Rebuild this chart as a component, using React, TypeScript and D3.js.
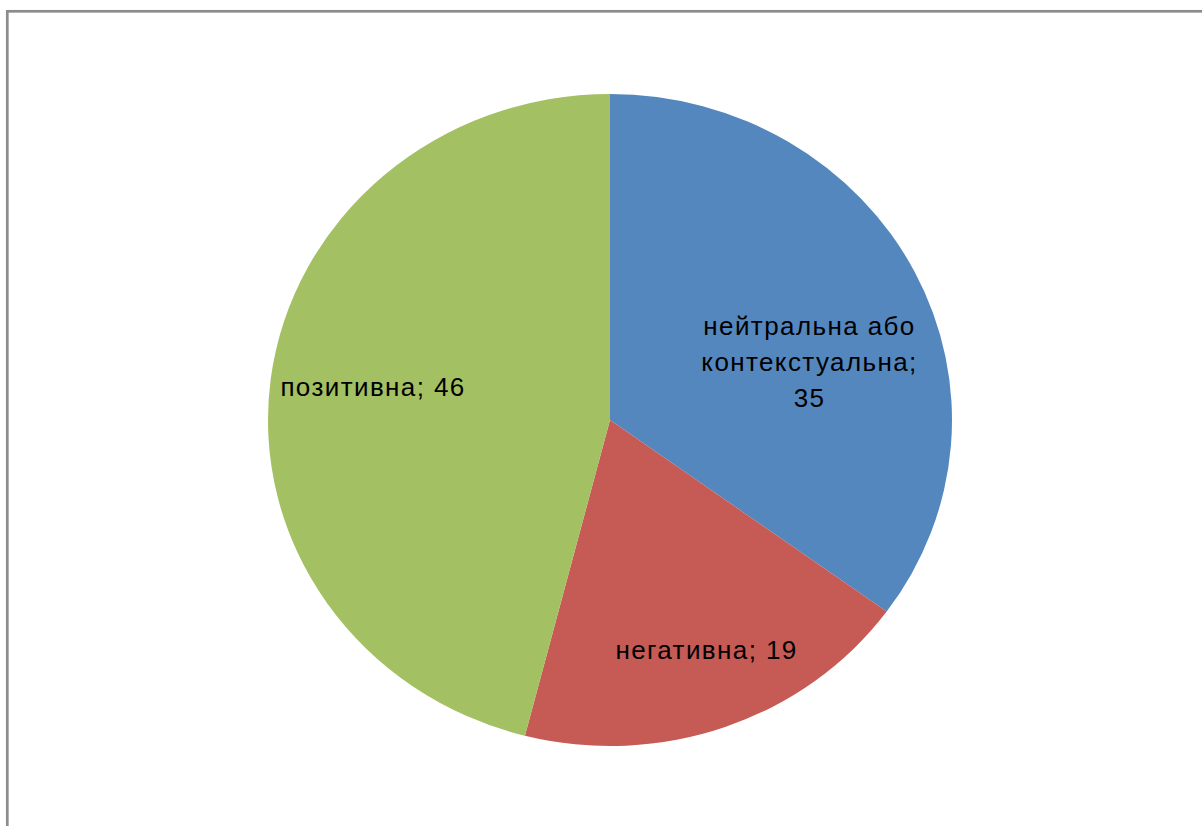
import React from "react";
import * as d3 from "d3";

const categories = ["нейтральна або контекстуальна", "негативна", "позитивна"];
const values = [35, 19, 46];
const colors = ["#5587BF", "#C65A55", "#A3C062"];

const W = 1202;
const H = 826;

function wrap(text: string, maxChars: number): string[] {
  const words = text.split(" ");
  const lines: string[] = [];
  let cur = "";
  for (const w of words) {
    const next = cur ? cur + " " + w : w;
    if (next.length > maxChars && cur) {
      lines.push(cur);
      cur = w;
    } else cur = next;
  }
  if (cur) lines.push(cur);
  return lines;
}

export default function App() {
  const cx = 610;
  const cy = 420;
  const ry = 326;
  const rx = 342;
  const sx = rx / ry;

  const pie = d3.pie<number>().sort(null).value((d) => d);
  const arcs = pie(values);
  const arc = d3.arc<d3.PieArcDatum<number>>().innerRadius(0).outerRadius(ry);

  // label placement (layout): angle shift (deg) and radius fraction per slice
  const labelLayout = [
    { shift: 10, frac: 0.61 },
    { shift: -2, frac: 0.76 },
    { shift: 1, frac: 0.7 },
  ];
  const lineH = 36;

  return (
    <svg
      width={W}
      height={H}
      style={{ position: "absolute", left: 0, top: 0, background: "#fff" }}
    >
      <rect x={7.3} y={11.3} width={W + 50} height={H + 50} fill="#fff" stroke="#8c8c8c" strokeWidth={2.7} />
      <g transform={`translate(${cx},${cy}) scale(${sx},1)`}>
        {arcs.map((a, i) => (
          <path key={i} d={arc(a) || ""} fill={colors[i]} />
        ))}
      </g>
      {arcs.map((a, i) => {
        const mid = (a.startAngle + a.endAngle) / 2 + (labelLayout[i].shift * Math.PI) / 180;
        const f = labelLayout[i].frac;
        const x = cx + Math.sin(mid) * rx * f;
        const y = cy - Math.cos(mid) * ry * f;
        const lines = wrap(`${categories[i]}; ${values[i]}`, 15);
        const y0 = y - ((lines.length - 1) * lineH) / 2;
        return (
          <text
            key={i}
            x={x}
            y={y0}
            textAnchor="middle"
            dominantBaseline="central"
            fontFamily="Liberation Sans, Arial, sans-serif"
            fontSize={26}
            letterSpacing={1.4}
            fill="#000"
          >
            {lines.map((l, j) => (
              <tspan key={j} x={x} y={y0 + j * lineH}>
                {l}
              </tspan>
            ))}
          </text>
        );
      })}
    </svg>
  );
}
